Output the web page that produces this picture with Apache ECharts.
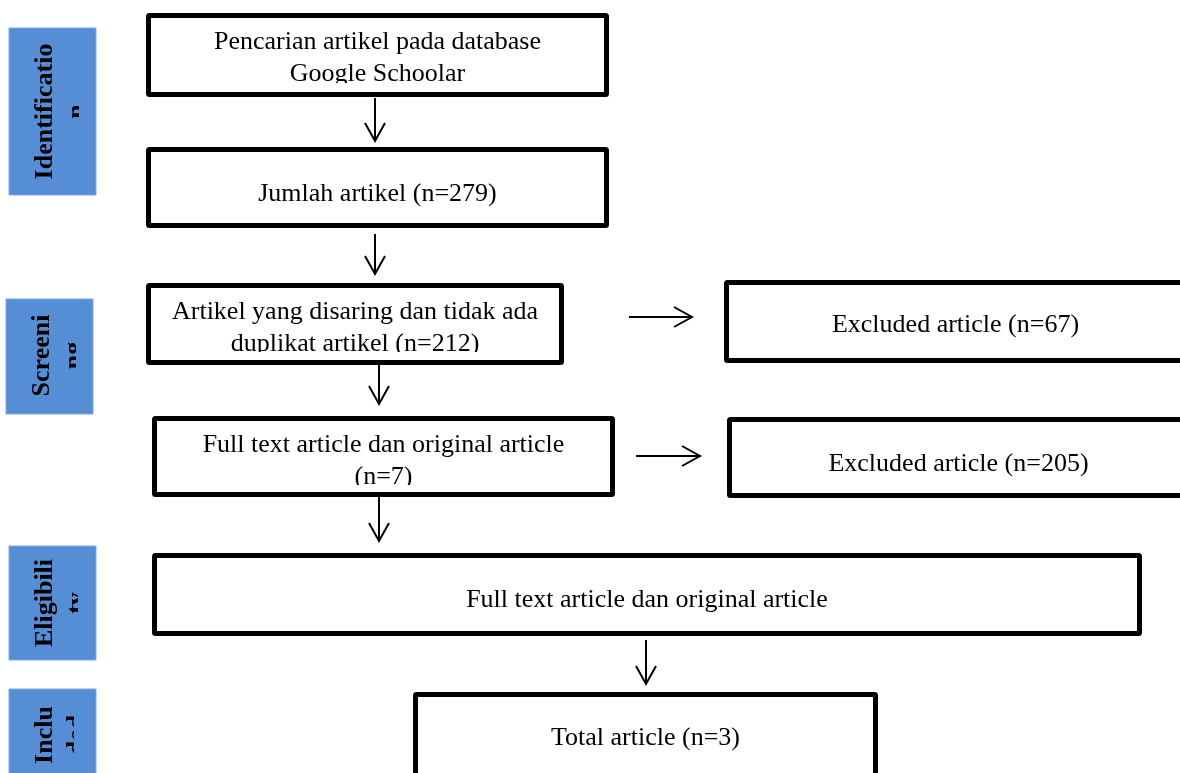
<!DOCTYPE html>
<html>
<head>
<meta charset="utf-8">
<script src="https://cdn.jsdelivr.net/npm/echarts@6/dist/echarts.min.js"></script>
<style>
html,body{margin:0;padding:0;background:#fff;}
#chart{width:1180px;height:773px;}
</style>
</head>
<body>
<div id="chart"></div>
<script>
// ---- content ----
const stageNames = ['Identificatio\nn', 'Screeni\nng', 'Eligibili\nty', 'Inclu\nded'];
const stepTitles = [
  'Pencarian artikel pada database\nGoogle Schoolar',
  'Jumlah artikel',
  'Artikel yang disaring dan tidak ada\nduplikat artikel',
  'Full text article dan original article',
  'Excluded article',
  'Excluded article',
  'Full text article dan original article',
  'Total article'
];
const stepCounts = [null, 279, 212, 7, 67, 205, null, 3];
const countOnNewLine = [false, false, false, true, false, false, false, false];
// flow links: [from step, to step]
const flowLinks = [[0, 1], [1, 2], [2, 3], [3, 6], [6, 7], [2, 4], [3, 5]];

// ---- layout (positions / sizes only) ----
const stageLayout = [
  { x0: 9, y0: 28, x1: 96, y1: 195, tx: 61, ty: 111.5, cut: 79 },
  { x0: 6, y0: 299, x1: 93, y1: 414, tx: 58, ty: 355.5, cut: 76 },
  { x0: 9, y0: 546, x1: 96, y1: 660, tx: 61, ty: 603, cut: 78 },
  { x0: 9, y0: 689, x1: 96, y1: 790, tx: 61, ty: 735, cut: 74 }
];
const stepLayout = [
  { x0: 146, y0: 13, x1: 609, y1: 97, ty: 58, cut: 83 },
  { x0: 146, y0: 147, x1: 609, y1: 228, ty: 194, cut: null },
  { x0: 146, y0: 283, x1: 564, y1: 365, ty: 328, cut: 352 },
  { x0: 152, y0: 416, x1: 615, y1: 497, ty: 461, cut: 485 },
  { x0: 724, y0: 280, x1: 1187, y1: 363, ty: 325, cut: null },
  { x0: 727, y0: 417, x1: 1190, y1: 498, ty: 464, cut: null },
  { x0: 152, y0: 553, x1: 1142, y1: 636, ty: 600, cut: null },
  { x0: 413, y0: 692, x1: 878, y1: 790, ty: 738, cut: null }
];
// arrow geometry per link: [xStart, yStart, xEnd, yEnd]
const linkLayout = [
  [375, 98, 375, 141],
  [375, 234, 375, 274],
  [379, 365, 379, 404],
  [379, 497, 379, 541],
  [646, 640, 646, 684],
  [629, 317, 692, 317],
  [636, 456, 700, 456]
];

const BORDER = 5;
const FONT = '26px "Liberation Serif", "Times New Roman", serif';
const FONT_BOLD = 'bold 26px "Liberation Serif", "Times New Roman", serif';
const BLUE = '#558ED5';

function stepLabel(i) {
  let t = stepTitles[i];
  if (stepCounts[i] !== null) {
    t += (countOnNewLine[i] ? '\n' : ' ') + '(n=' + stepCounts[i] + ')';
  }
  return t;
}

const elements = [];

// stage side labels
stageNames.forEach(function (name, i) {
  const L = stageLayout[i];
  elements.push({
    type: 'rect', z: 1,
    shape: { x: L.x0, y: L.y0, width: L.x1 - L.x0, height: L.y1 - L.y0 },
    style: { fill: BLUE, stroke: '#7fa9e0', lineWidth: 1 }
  });
  elements.push({
    type: 'text', z: 2,
    x: L.tx, y: L.ty, rotation: Math.PI / 2,
    style: { text: name, font: FONT_BOLD, fill: '#000', align: 'center', verticalAlign: 'middle', lineHeight: 32 }
  });
  elements.push({
    type: 'rect', z: 3,
    shape: { x: L.cut, y: L.y0 + 1, width: L.x1 - L.cut - 1, height: L.y1 - L.y0 - 2 },
    style: { fill: BLUE }
  });
});

// step boxes
stepTitles.forEach(function (t, i) {
  const L = stepLayout[i];
  elements.push({
    type: 'text', z: 2,
    x: (L.x0 + L.x1) / 2, y: L.ty,
    style: { text: stepLabel(i), font: FONT, fill: '#000', align: 'center', verticalAlign: 'middle', lineHeight: 32 }
  });
  if (L.cut !== null) {
    elements.push({
      type: 'rect', z: 3,
      shape: { x: L.x0 + BORDER, y: L.cut, width: L.x1 - L.x0 - 2 * BORDER, height: L.y1 - BORDER - L.cut },
      style: { fill: '#fff' }
    });
  }
  elements.push({
    type: 'rect', z: 4,
    shape: { x: L.x0 + BORDER / 2, y: L.y0 + BORDER / 2, width: L.x1 - L.x0 - BORDER, height: L.y1 - L.y0 - BORDER, r: 1 },
    style: { fill: 'none', stroke: '#000', lineWidth: BORDER }
  });
});

// arrows
flowLinks.forEach(function (lk, i) {
  const g = linkLayout[i];
  const dx = g[2] - g[0], dy = g[3] - g[1];
  const len = Math.sqrt(dx * dx + dy * dy);
  const ux = dx / len, uy = dy / len;
  const headL = 18, headW = 10;
  const bx = g[2] - ux * headL, by = g[3] - uy * headL;
  elements.push({
    type: 'line', z: 5,
    shape: { x1: g[0], y1: g[1], x2: g[2], y2: g[3] },
    style: { stroke: '#000', lineWidth: 2 }
  });
  elements.push({
    type: 'polyline', z: 5,
    shape: { points: [[bx - uy * headW, by + ux * headW], [g[2], g[3]], [bx + uy * headW, by - ux * headW]] },
    style: { stroke: '#000', lineWidth: 2, fill: 'none' }
  });
});

const chart = echarts.init(document.getElementById('chart'));
chart.setOption({
  backgroundColor: '#fff',
  animation: false,
  graphic: { elements: elements }
});
</script>
</body>
</html>
